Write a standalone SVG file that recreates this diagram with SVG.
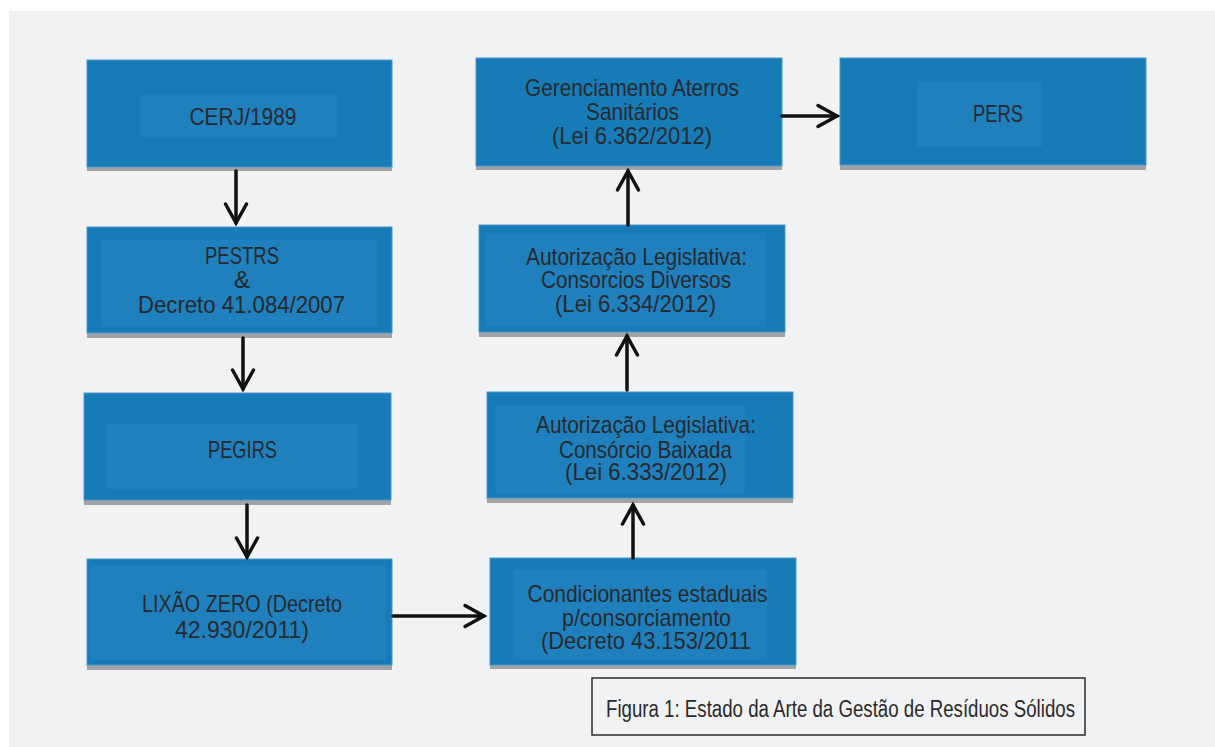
<svg xmlns="http://www.w3.org/2000/svg" width="1215" height="747" viewBox="0 0 1215 747">
<defs>
<style>
.sh{fill:#a0a2a4}
.bx{fill:#177bb7;stroke:#4b99cc;stroke-width:1}
.in{fill:#1f80bd}
.t{font-family:"Liberation Sans",Arial,sans-serif;font-size:24px;fill:#262a2e;text-anchor:middle}
.cap{font-family:"Liberation Sans",Arial,sans-serif;font-size:23px;fill:#2a2a2a}
.c{stroke:#111;stroke-width:3.5;fill:none;stroke-linecap:round;marker-end:url(#ah)}
</style>
<marker id="ah" markerUnits="userSpaceOnUse" markerWidth="30" markerHeight="30" viewBox="-24 -15 30 30" refX="0" refY="0" orient="auto">
<path d="M-19,-10.5 L0,0 L-19,10.5" fill="none" stroke="#111" stroke-width="3.5" stroke-linecap="round" stroke-linejoin="miter"/>
</marker>
</defs>
<rect x="0" y="0" width="1215" height="747" fill="#ffffff"/>
<rect x="9" y="11" width="1206" height="736" fill="#f1f2f4"/>

<g id="cerj">
<rect class="sh" x="87" y="64" width="305" height="107"/>
<rect class="bx" x="87" y="60" width="305" height="107"/>
<rect class="in" x="140" y="95" width="197" height="42"/>
<text class="t" x="243" y="125" textLength="107" lengthAdjust="spacingAndGlyphs">CERJ/1989</text>
</g>

<g id="pestrs">
<rect class="sh" x="87" y="231" width="305" height="107"/>
<rect class="bx" x="87" y="227" width="305" height="106"/>
<rect class="in" x="101" y="240" width="276" height="87"/>
<text class="t" x="242" y="264" textLength="74" lengthAdjust="spacingAndGlyphs">PESTRS</text>
<text class="t" x="242" y="288">&amp;</text>
<text class="t" x="241.5" y="313" textLength="207" lengthAdjust="spacingAndGlyphs">Decreto 41.084/2007</text>
</g>

<g id="pegirs">
<rect class="sh" x="84" y="398" width="307" height="107"/>
<rect class="bx" x="84" y="393" width="307" height="107"/>
<rect class="in" x="107" y="424" width="250" height="65"/>
<text class="t" x="242.5" y="458" textLength="69" lengthAdjust="spacingAndGlyphs">PEGIRS</text>
</g>

<g id="lixao">
<rect class="sh" x="87" y="563" width="305" height="107"/>
<rect class="bx" x="87" y="559" width="305" height="106"/>
<rect class="in" x="90" y="565" width="296" height="95"/>
<text class="t" x="242" y="612" textLength="200" lengthAdjust="spacingAndGlyphs">LIXÃO ZERO (Decreto</text>
<text class="t" x="242" y="638" textLength="134" lengthAdjust="spacingAndGlyphs">42.930/2011)</text>
</g>

<g id="condicionantes">
<rect class="sh" x="490" y="562" width="306" height="107"/>
<rect class="bx" x="490" y="558" width="306" height="107"/>
<rect class="in" x="513" y="570" width="254" height="90"/>
<text class="t" x="647.5" y="602" textLength="240" lengthAdjust="spacingAndGlyphs">Condicionantes estaduais</text>
<text class="t" x="646.5" y="626" textLength="169" lengthAdjust="spacingAndGlyphs">p/consorciamento</text>
<text class="t" x="646" y="649" textLength="210" lengthAdjust="spacingAndGlyphs">(Decreto 43.153/2011</text>
</g>

<g id="baixada">
<rect class="sh" x="487" y="397" width="306" height="106"/>
<rect class="bx" x="487" y="392" width="306" height="106"/>
<rect class="in" x="495" y="405" width="250" height="88"/>
<text class="t" x="646" y="433" textLength="220" lengthAdjust="spacingAndGlyphs">Autorização Legislativa:</text>
<text class="t" x="645.5" y="458" textLength="173" lengthAdjust="spacingAndGlyphs">Consórcio Baixada</text>
<text class="t" x="646" y="480" textLength="162" lengthAdjust="spacingAndGlyphs">(Lei 6.333/2012)</text>
</g>

<g id="diversos">
<rect class="sh" x="479" y="230" width="306" height="107"/>
<rect class="bx" x="479" y="225" width="306" height="107"/>
<rect class="in" x="485" y="233" width="280" height="94"/>
<text class="t" x="636.5" y="265" textLength="221" lengthAdjust="spacingAndGlyphs">Autorização Legislativa:</text>
<text class="t" x="636" y="288" textLength="190" lengthAdjust="spacingAndGlyphs">Consorcios Diversos</text>
<text class="t" x="635.5" y="312" textLength="161" lengthAdjust="spacingAndGlyphs">(Lei 6.334/2012)</text>
</g>

<g id="gerenciamento">
<rect class="sh" x="476" y="62" width="306" height="108"/>
<rect class="bx" x="476" y="58" width="306" height="108"/>
<text class="t" x="632" y="96" textLength="214" lengthAdjust="spacingAndGlyphs">Gerenciamento Aterros</text>
<text class="t" x="632.5" y="120" textLength="93" lengthAdjust="spacingAndGlyphs">Sanitários</text>
<text class="t" x="632" y="144" textLength="160" lengthAdjust="spacingAndGlyphs">(Lei 6.362/2012)</text>
</g>

<g id="pers">
<rect class="sh" x="840" y="62" width="306" height="108"/>
<rect class="bx" x="840" y="58" width="306" height="107"/>
<rect class="in" x="917" y="82" width="125" height="65"/>
<text class="t" x="998" y="122" textLength="50" lengthAdjust="spacingAndGlyphs">PERS</text>
</g>

<g id="connectors">
<line class="c" x1="236" y1="171" x2="236" y2="223"/>
<line class="c" x1="243" y1="338" x2="243" y2="389"/>
<line class="c" x1="247" y1="505" x2="247" y2="557"/>
<line class="c" x1="393" y1="616" x2="484" y2="616"/>
<line class="c" x1="633" y1="558" x2="633" y2="505"/>
<line class="c" x1="627" y1="390" x2="627" y2="336"/>
<line class="c" x1="628" y1="225" x2="628" y2="171"/>
<line class="c" x1="782" y1="116" x2="837" y2="116"/>
</g>

<g id="caption">
<rect x="592" y="678" width="493" height="57" fill="none" stroke="#2a2a2a" stroke-width="1.5"/>
<text class="cap" x="606" y="717" textLength="469" lengthAdjust="spacingAndGlyphs">Figura 1: Estado da Arte da Gestão de Resíduos Sólidos</text>
</g>
</svg>
